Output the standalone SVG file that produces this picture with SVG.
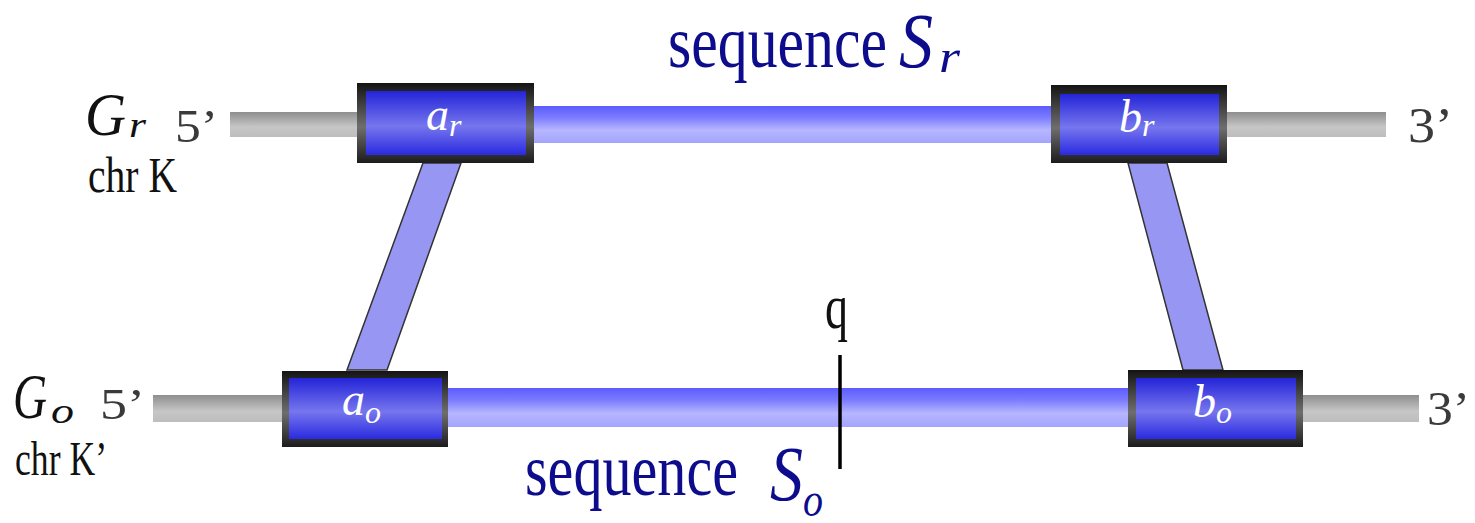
<svg xmlns="http://www.w3.org/2000/svg" width="1475" height="523" viewBox="0 0 1475 523">
  <defs>
    <linearGradient id="gFrame" x1="0" y1="0" x2="0" y2="1">
      <stop offset="0" stop-color="#141414"/>
      <stop offset="0.55" stop-color="#6e6e6e"/>
      <stop offset="1" stop-color="#1c1c1c"/>
    </linearGradient>
    <linearGradient id="gInner" x1="0" y1="0" x2="0" y2="1">
      <stop offset="0" stop-color="#2424d8"/>
      <stop offset="0.55" stop-color="#7676ee"/>
      <stop offset="1" stop-color="#2a2ae0"/>
    </linearGradient>
    <linearGradient id="gBlue" x1="0" y1="0" x2="0" y2="1">
      <stop offset="0" stop-color="#5c5cff"/>
      <stop offset="0.3" stop-color="#7a7aff"/>
      <stop offset="0.65" stop-color="#b6b6ff"/>
      <stop offset="1" stop-color="#a4a4ff"/>
    </linearGradient>
    <linearGradient id="gGray" x1="0" y1="0" x2="0" y2="1">
      <stop offset="0" stop-color="#8e8e8e"/>
      <stop offset="0.6" stop-color="#c6c6c6"/>
      <stop offset="1" stop-color="#bdbdbd"/>
    </linearGradient>
    <style>
      .frame { fill: url(#gFrame); }
      .inner { fill: url(#gInner); }
      .blue { fill: url(#gBlue); }
      .gray { fill: url(#gGray); }
      .link { fill: #9797f3; stroke: #333; stroke-width: 1.5; }
      .lbl { font-family: "Liberation Serif", serif; font-style: italic; fill: #fff; }
      .seq { font-family: "Liberation Serif", serif; fill: #0c0c8c; }
      .math { font-family: "Liberation Serif", serif; font-style: italic; }
      .rm { font-family: "Liberation Serif", serif; fill: #111; }
      .end { font-family: "Liberation Serif", serif; fill: #3a3a3a; }
    </style>
  </defs>
  <rect width="1475" height="523" fill="#fff"/>

  <g id="connectors">
    <rect class="gray" x="230" y="112" width="128" height="25"/>
    <rect class="blue" x="533" y="106" width="520" height="37"/>
    <rect class="gray" x="1226" y="112" width="160" height="25"/>
    <rect class="gray" x="153" y="395" width="130" height="27"/>
    <rect class="blue" x="447" y="388" width="682" height="39"/>
    <rect class="gray" x="1302" y="395" width="117" height="27"/>
    <polygon class="link" points="423,163 461,163 387,370 347,370"/>
    <polygon class="link" points="1128,163 1167,163 1223,370 1183,370"/>
  </g>

  <g id="node-a_r">
    <rect class="frame" x="357" y="83" width="177" height="80"/>
    <rect class="inner" x="366" y="91" width="160" height="64"/>
    <text class="lbl" x="426" y="130" font-size="46">a<tspan font-size="32" dy="6">r</tspan></text>
  </g>
  <g id="node-b_r">
    <rect class="frame" x="1051" y="85" width="176" height="78"/>
    <rect class="inner" x="1060" y="94" width="159" height="61"/>
    <text class="lbl" x="1119" y="132" font-size="46">b<tspan font-size="32" dy="4">r</tspan></text>
  </g>
  <g id="node-a_o">
    <rect class="frame" x="282" y="371" width="166" height="76"/>
    <rect class="inner" x="289" y="378" width="153" height="61"/>
    <text class="lbl" x="342" y="415" font-size="46">a<tspan font-size="32" dy="8">o</tspan></text>
  </g>
  <g id="node-b_o">
    <rect class="frame" x="1128" y="370" width="175" height="77"/>
    <rect class="inner" x="1136" y="378" width="160" height="61"/>
    <text class="lbl" x="1193" y="417" font-size="46">b<tspan font-size="32" dy="6">o</tspan></text>
  </g>

  <g id="labels">
    <text class="seq" x="668" y="67" font-size="75" textLength="219" lengthAdjust="spacingAndGlyphs">sequence</text>
    <text class="seq math" x="899" y="67" font-size="78" textLength="34" lengthAdjust="spacingAndGlyphs">S</text>
    <text class="seq math" x="939" y="72" font-size="46" textLength="21" lengthAdjust="spacingAndGlyphs">r</text>

    <text class="seq" x="525" y="495" font-size="73" textLength="213" lengthAdjust="spacingAndGlyphs">sequence</text>
    <text class="seq math" x="770" y="500" font-size="78" textLength="33" lengthAdjust="spacingAndGlyphs">S</text>
    <text class="seq math" x="803" y="516" font-size="48" textLength="20" lengthAdjust="spacingAndGlyphs">o</text>

    <text class="rm math" x="85" y="135" font-size="62" textLength="41" lengthAdjust="spacingAndGlyphs">G</text>
    <text class="rm math" x="129" y="137" font-size="36" textLength="17" lengthAdjust="spacingAndGlyphs">r</text>
    <text class="end" x="175" y="142" font-size="46" textLength="43" lengthAdjust="spacingAndGlyphs">5’</text>
    <text class="rm" x="88" y="192" font-size="50" textLength="89" lengthAdjust="spacingAndGlyphs">chr K</text>

    <text class="rm math" x="13" y="418" font-size="63" textLength="34" lengthAdjust="spacingAndGlyphs">G</text>
    <text class="rm math" x="51" y="423" font-size="36" textLength="23" lengthAdjust="spacingAndGlyphs">o</text>
    <text class="end" x="100" y="419" font-size="44" textLength="45" lengthAdjust="spacingAndGlyphs">5’</text>
    <text class="rm" x="15" y="475" font-size="48" textLength="92" lengthAdjust="spacingAndGlyphs">chr K’</text>

    <text class="end" x="1408" y="142" font-size="50" textLength="45" lengthAdjust="spacingAndGlyphs">3’</text>
    <text class="end" x="1427" y="425" font-size="49" textLength="43" lengthAdjust="spacingAndGlyphs">3’</text>

    <text class="rm" x="825" y="328" font-size="64" textLength="23" lengthAdjust="spacingAndGlyphs">q</text>
    <line x1="840" y1="355" x2="840" y2="469" stroke="#000" stroke-width="3.5"/>
  </g>
</svg>
